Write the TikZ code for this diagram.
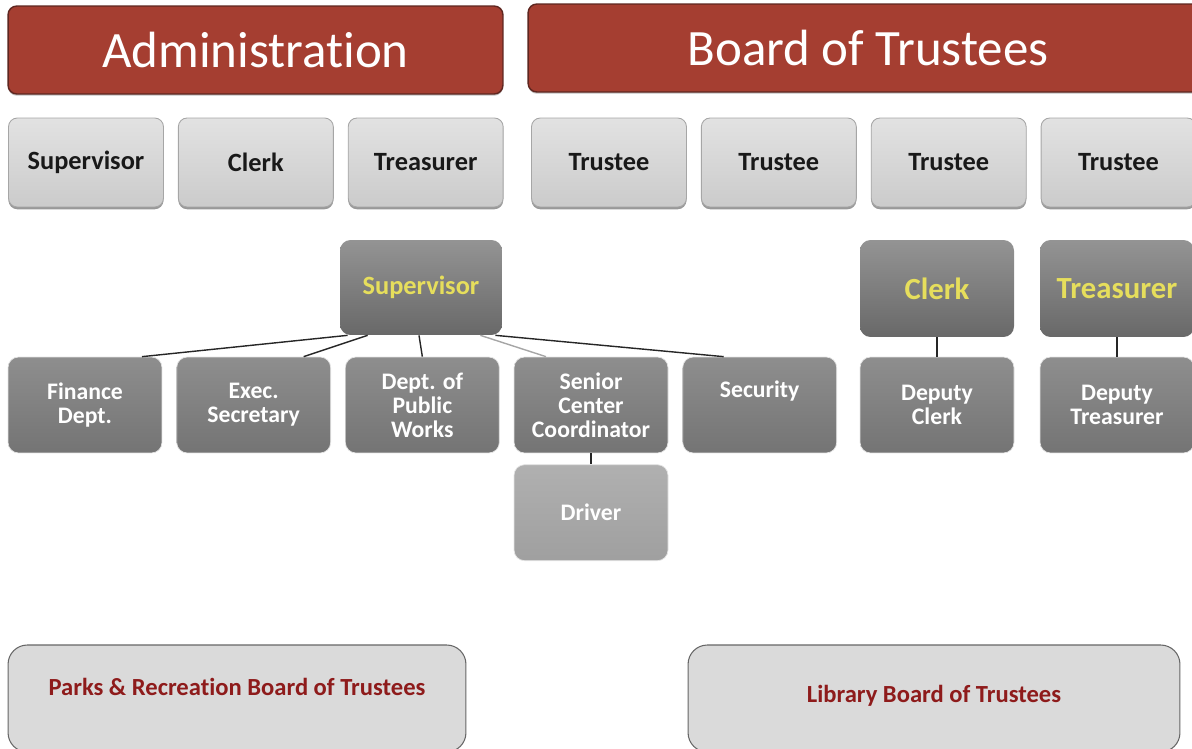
\documentclass[tikz,border=0pt]{standalone}
\usepackage{fontspec}
\setmainfont{Carlito}[Ligatures=NoCommon]
\usepackage{tikz}
\usetikzlibrary{positioning,calc,shadows}
\definecolor{hdred}{HTML}{A53E31}
\definecolor{hdedge}{HTML}{5E2620}
\definecolor{litetop}{HTML}{E2E2E2}
\definecolor{litebot}{HTML}{CBCBCB}
\definecolor{darktop}{HTML}{8E8E8E}
\definecolor{darkbot}{HTML}{747474}
\definecolor{gold}{HTML}{E6DE5C}
\definecolor{wine}{HTML}{8E1B1B}

\begin{document}
\begin{tikzpicture}[x=0.02cm, y=-0.02cm,
  hdr/.style={draw=hdedge, line width=0.8pt, fill=hdred, rounded corners=5pt, text=white,
    font={\fontsize{29}{32}\selectfont}, minimum height=1.76cm,
    drop shadow={shadow xshift=0pt, shadow yshift=-1pt, opacity=0.5}},
  lite/.style={draw=gray!70, line width=0.5pt, top color=litetop, bottom color=litebot, rounded corners=5pt,
    minimum width=3.1cm, minimum height=1.78cm, text=black!90,
    font={\fontsize{15}{16}\selectfont\bfseries},
    drop shadow={shadow xshift=0pt, shadow yshift=-1.3pt, opacity=0.8}},
  boss/.style={draw=none, top color=darktop!95, bottom color=darkbot!90!black, rounded corners=6pt,
    text=gold, font={\fontsize{15}{17}\selectfont\bfseries}},
  mid/.style={draw=white!80!gray, line width=0.4pt, top color=darktop, bottom color=darkbot, rounded corners=6pt,
    minimum width=3.08cm, minimum height=1.92cm, text=white, align=center,
    font={\fontsize{13.5}{13.6}\selectfont\bfseries}},
  board/.style={draw=gray!80!black, line width=0.6pt, fill=litetop!92!gray, rounded corners=11pt,
    text=wine, font={\fontsize{14}{15}\selectfont\bfseries}},
  wire/.style={draw=black!85, line width=0.8pt}]
\useasboundingbox (0,0) rectangle (1192,749);

% headers
\node[hdr, minimum width=9.9cm] (adm) at (255.5,50) {Administration};
\node[hdr, minimum width=13.6cm] (bot) at (868,48) {Board of Trustees};

% officers and trustees
\node[lite] (sv) at (86,162.5) {Supervisor};
\node[lite, right=0.28cm of sv] (cl) {Clerk};
\node[lite, right=0.28cm of cl] (tr) {Treasurer};
\node[lite] (t1) at (609,162.5) {Trustee};
\node[lite, right=0.28cm of t1] (t2) {Trustee};
\node[lite, right=0.28cm of t2] (t3) {Trustee};
\node[lite, right=0.28cm of t3] (t4) {Trustee};

% department heads
\node[boss, minimum width=3.24cm, minimum height=1.9cm] (bsv) at (421,287.5) {Supervisor};
\node[boss, minimum width=3.08cm, minimum height=1.94cm, font={\fontsize{17.5}{19}\selectfont\bfseries}] (bcl) at (937,288.5) {Clerk};
\node[boss, minimum width=3.08cm, minimum height=1.94cm, font={\fontsize{17.5}{19}\selectfont\bfseries}] (btr) at (1117,288.5) {Treasurer};

% staff
\node[mid] (fin) at (85,405) {Finance\\Dept.};
\node[mid, right=0.28cm of fin] (sec) {Exec.\\Secretary};
\node[mid, right=0.28cm of sec] (dpw) {Dept. of\\Public\\Works};
\node[mid, right=0.28cm of dpw] (scc) {Senior\\Center\\Coordinator};
\node[mid, right=0.28cm of scc] (secu) {Security\\\strut};
\node[mid] (dcl) at (937,405) {Deputy\\Clerk};
\node[mid] (dtr) at (1117,405) {Deputy\\Treasurer};
\node[mid, below=0.22cm of scc, top color=gray!62, bottom color=gray!75] (drv) {Driver};

% other boards
\node[board, minimum width=9.16cm, minimum height=2.14cm, text depth=0.45cm] (prk) at (237,698.5) {Parks \& Recreation Board of Trustees};
\node[board, minimum width=9.84cm, minimum height=2.14cm, text depth=0.2cm] (lib) at (934,698.5) {Library Board of Trustees};

% lines
\draw[wire] ($(bsv.south west)+(8,0)$) -- ($(fin.north)+(57,0)$);
\draw[wire] ($(bsv.south west)+(28,0)$) -- ($(sec.north)+(50,0)$);
\draw[wire] ($(bsv.south)+(-2,0)$) -- (dpw.north);
\draw[wire, draw=gray!70] ($(bsv.south east)+(-22,0)$) -- ($(scc.north)+(-45,0)$);
\draw[wire] ($(bsv.south east)+(-7,0)$) -- ($(secu.north)+(-36,0)$);
\draw[wire] (scc.south) -- (drv.north);
\draw[wire] (bcl.south) -- (dcl.north);
\draw[wire] (btr.south) -- (dtr.north);
\end{tikzpicture}
\end{document}
